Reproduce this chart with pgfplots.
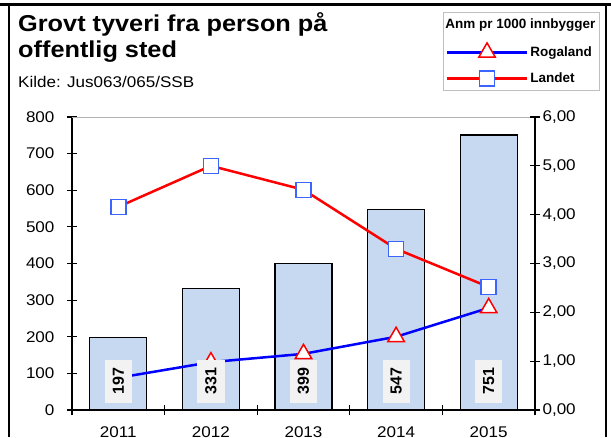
\documentclass[border=0pt]{standalone}
\usepackage{pgfplots}
\pgfplotsset{compat=1.18}
\usepackage{fontspec}
\setmainfont{Liberation Sans}[FakeStretch=1.1]
\newfontfamily\plainfont{Liberation Sans}
\definecolor{barfill}{RGB}{198,217,240}
\definecolor{sqblue}{RGB}{60,100,255}
\definecolor{lblbox}{RGB}{242,242,242}
\begin{document}
\begin{tikzpicture}[x=1pt,y=1pt]
\path[use as bounding box] (0,0) rectangle (611,437);
\clip (0,0) rectangle (611,437);
\draw[line width=3pt] (0,432) -- (611,432);
\draw[line width=2pt] (9,432) -- (9,0);
\draw[line width=2.5pt] (606,432) -- (606,0);
\node[anchor=base west, inner sep=0, font=\fontsize{23}{26}\selectfont\bfseries] at (18,405) {Grovt tyveri fra person på};
\node[anchor=base west, inner sep=0, font=\fontsize{23}{26}\selectfont\bfseries] at (18,379) {offentlig sted};
\node[anchor=base west, inner sep=0, font=\fontsize{15.5}{17}\selectfont] at (18,349) {Kilde: Jus063/065/SSB};
\begin{axis}[
  at={(72pt,27pt)}, anchor=south west,
  scale only axis, width=463pt, height=293pt,
  xmin=-0.5, xmax=4.5, ymin=0, ymax=800,
  axis x line*=bottom, axis y line*=left,
  axis line style={-, line width=1.2pt},
  xtick={-0.5,0.5,1.5,2.5,3.5,4.5}, xticklabels={},
  extra x ticks={0,1,2,3,4},
  extra x tick labels={2011,2012,2013,2014,2015},
  extra x tick style={major tick length=0pt, xticklabel style={yshift=-13pt}},
  ytick={0,100,...,800},
  tick align=center, major tick length=10pt,
  tick style={black, line width=1.2pt},
  ticklabel style={font=\fontsize{15.5}{17}\selectfont},
  yticklabel style={xshift=-9pt},
  /pgf/number format/assume math mode=true,
  clip=false,
]
\addplot[ybar, bar width=57pt, fill=barfill, draw=black, line width=1.2pt] coordinates {(0,197) (1,331) (2,399) (3,547) (4,751)};
\draw[gray!60, line width=1pt] (rel axis cs:0,1) -- (rel axis cs:1,1);
\end{axis}
\begin{axis}[
  at={(72pt,27pt)}, anchor=south west,
  scale only axis, width=463pt, height=293pt,
  xmin=-0.5, xmax=4.5, ymin=0, ymax=6,
  axis x line=none, axis y line*=right,
  axis line style={-, line width=1.2pt},
  ytick={0,1,...,6},
  tick align=center, major tick length=10pt,
  tick style={black, line width=1.2pt},
  ticklabel style={font=\fontsize{15.5}{17}\selectfont},
  yticklabel style={xshift=-1pt, /pgf/number format/.cd, fixed, fixed zerofill, precision=2, use comma},
  /pgf/number format/assume math mode=true,
  clip=false,
  legend style={at={(1.140,1.358)}, anchor=north east, draw=gray!50, line width=1pt, fill=white,
    font=\plainfont\bfseries\fontsize{13.5}{15}\selectfont, inner xsep=2pt, inner ysep=4pt, row sep=11pt,
    nodes={inner sep=2pt}},
  legend cell align=left,
  legend image code/.code={\draw[mark repeat=2, mark phase=2] plot coordinates {(0pt,0pt) (40pt,0pt) (80pt,0pt)};},
]
\addlegendimage{empty legend}
\addlegendentry{\hspace*{-85pt}Anm pr 1000 innbygger}
\addplot[blue, line width=2.5pt, mark=triangle*, mark size=9.5pt, mark options={draw=red, fill=white, line width=1.5pt, solid}] coordinates {(0,0.66) (1,0.98) (2,1.15) (3,1.50) (4,2.09)};
\addlegendentry{Rogaland}
\addplot[red, line width=2.5pt, mark=square*, mark size=7.5pt, mark options={draw=sqblue, fill=white, line width=1.5pt, solid}] coordinates {(0,4.16) (1,5.00) (2,4.51) (3,3.30) (4,2.52)};
\addlegendentry{Landet}
\addplot[draw=none, mark=none, nodes near coords, point meta=explicit symbolic, nodes near coords align={center},
  every node near coord/.append style={rotate=90, fill=lblbox, text=black, font=\plainfont\bfseries\fontsize{16}{18}\selectfont, inner xsep=8pt, inner ysep=8pt}]
  coordinates {(0,0.59)[197] (1,0.59)[331] (2,0.59)[399] (3,0.59)[547] (4,0.59)[751]};
\end{axis}
\end{tikzpicture}
\end{document}
